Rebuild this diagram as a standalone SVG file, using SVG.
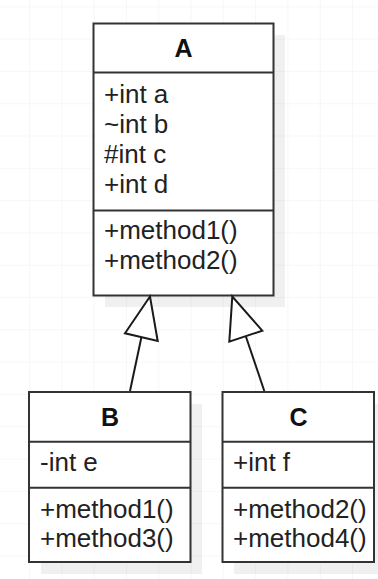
<svg xmlns="http://www.w3.org/2000/svg" width="378" height="579" viewBox="0 0 378 579">
  <style>
    .box { fill: #ffffff; stroke: #333333; stroke-width: 2; }
    .sep { stroke: #333333; stroke-width: 2; }
    .shadow { fill: #000000; fill-opacity: 0.06; }
    .title { font-family: "Liberation Sans", Arial, sans-serif; font-size: 25px; font-weight: bold; fill: #111111; text-anchor: middle; }
    .member { font-family: "Liberation Sans", Arial, sans-serif; font-size: 26px; fill: #222222; }
    .edge { fill: none; stroke: #1a1a1a; stroke-width: 2; }
    .head { fill: #ffffff; stroke: #1a1a1a; stroke-width: 2; stroke-linejoin: miter; }
  </style>
  <defs>
    <pattern id="grid" x="-2.3" y="-25" width="32.3" height="32.3" patternUnits="userSpaceOnUse">
      <path d="M 32.3 0 L 32.3 32.3 M 0 32.3 L 32.3 32.3" fill="none" stroke="#f0f0f0" stroke-width="1"/>
    </pattern>
  </defs>

  <rect x="0" y="0" width="378" height="579" fill="#ffffff"/>
  <rect x="0" y="0" width="378" height="579" fill="url(#grid)"/>

  <!-- class A -->
  <g id="class-a">
    <rect class="shadow" x="105" y="35" width="180" height="272"/>
    <rect class="box" x="93.5" y="23.5" width="180" height="272"/>
    <line class="sep" x1="93.5" y1="72.5" x2="273.5" y2="72.5"/>
    <line class="sep" x1="93.5" y1="210.5" x2="273.5" y2="210.5"/>
    <text class="title" x="183.5" y="57">A</text>
    <text class="member" x="104" y="103">+int a</text>
    <text class="member" x="104" y="133">~int b</text>
    <text class="member" x="104" y="163">#int c</text>
    <text class="member" x="104" y="193">+int d</text>
    <text class="member" x="104" y="239">+method1()</text>
    <text class="member" x="104" y="269">+method2()</text>
  </g>

  <!-- class B -->
  <g id="class-b">
    <rect class="shadow" x="41" y="404" width="161" height="170"/>
    <rect class="box" x="29" y="392" width="161.5" height="170"/>
    <line class="sep" x1="29" y1="441.7" x2="190.5" y2="441.7"/>
    <line class="sep" x1="29" y1="487.7" x2="190.5" y2="487.7"/>
    <text class="title" x="110" y="425.5">B</text>
    <text class="member" x="40" y="470.5">-int e</text>
    <text class="member" x="40" y="518">+method1()</text>
    <text class="member" x="40" y="547">+method3()</text>
  </g>

  <!-- class C -->
  <g id="class-c">
    <rect class="shadow" x="234" y="404" width="152" height="170"/>
    <rect class="box" x="222.5" y="392" width="151.5" height="170"/>
    <line class="sep" x1="222.5" y1="441.7" x2="374" y2="441.7"/>
    <line class="sep" x1="222.5" y1="487.7" x2="374" y2="487.7"/>
    <text class="title" x="298.5" y="425.5">C</text>
    <text class="member" x="233" y="470.5">+int f</text>
    <text class="member" x="233" y="518">+method2()</text>
    <text class="member" x="233" y="547">+method4()</text>
  </g>

  <!-- generalization connectors -->
  <g id="connectors">
    <line class="edge" x1="130" y1="391" x2="141.4" y2="337.2"/>
    <polygon class="head" points="150,296.5 125,333.3 157.7,341"/>
    <line class="edge" x1="264.3" y1="391" x2="245.8" y2="336.2"/>
    <polygon class="head" points="232.3,296.5 229.3,341.7 262.3,330.7"/>
  </g>
</svg>
